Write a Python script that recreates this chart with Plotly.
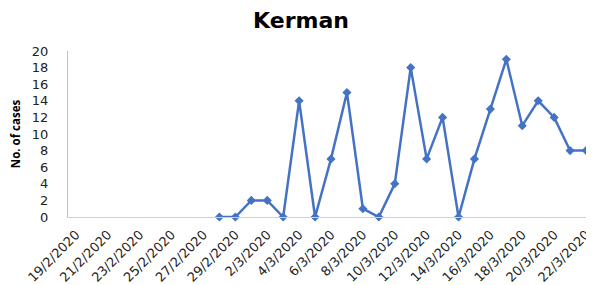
import plotly.graph_objects as go
import datetime as dt

start = dt.date(2020, 2, 19)
dates = [f"{(start + dt.timedelta(days=i)).day}/{(start + dt.timedelta(days=i)).month}/2020" for i in range(33)]
cases = [None] * 9 + [0, 0, 2, 2, 0, 14, 0, 7, 15, 1, 0, 4, 18, 7, 12, 0, 7, 13, 19, 11, 14, 12, 8, 8]
tick_labels = dates[::2]
y_ticks = list(range(0, 21, 2))

blue = "#4472C4"

fig = go.Figure()
fig.add_trace(go.Scatter(
    x=dates, y=cases, mode="lines+markers",
    line=dict(color=blue, width=2.5),
    marker=dict(symbol="diamond", size=7, color=blue),
    cliponaxis=False, connectgaps=False, showlegend=False,
))

# the page body adds an 8px offset, so the figure is 586x277
fig.update_layout(
    width=586, height=277,
    margin=dict(l=60, r=0, t=43, b=68, autoexpand=False),
    paper_bgcolor="white", plot_bgcolor="white",
    title=dict(text="<b>Kerman</b>", x=0.5, xanchor="center", y=0.957, yanchor="middle",
               font=dict(family="DejaVu Sans", size=22, color="black")),
    xaxis=dict(type="category", categoryorder="array", categoryarray=dates,
               range=[-0.5, 32.5], tickmode="array", tickvals=tick_labels, ticktext=tick_labels,
               tickangle=-45, showgrid=False, showline=True, linecolor="#d0d0d0", linewidth=1,
               ticks="", automargin=False, ticklabelstandoff=4,
               tickfont=dict(family="DejaVu Sans", size=13, color="#222"),
               zeroline=False),
    yaxis=dict(range=[0, 20], tickvals=y_ticks, showgrid=False, showline=True,
               linecolor="#bfbfbf", linewidth=1, zeroline=False, ticks="",
               ticklabelstandoff=16, automargin=False,
               tickfont=dict(family="DejaVu Sans", size=13, color="#222"),
               title=dict(text="<b>No. of cases</b>", standoff=9,
                          font=dict(family="Open Sans", size=11.5, color="black"))),
)

fig.write_html("out.html")
